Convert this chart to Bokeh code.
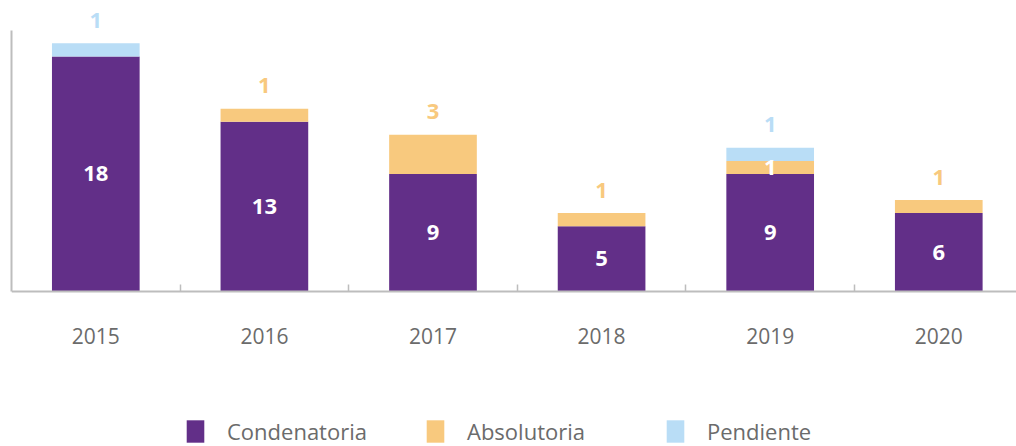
from bokeh.plotting import figure
from bokeh.models import ColumnDataSource, Range1d, FixedTicker
from bokeh.core.properties import value
from bokeh.embed import file_html
from bokeh.resources import INLINE

years = ["2015", "2016", "2017", "2018", "2019", "2020"]
condenatoria = [18, 13, 9, 5, 9, 6]
absolutoria = [0, 1, 3, 1, 1, 1]
pendiente = [1, 0, 0, 0, 1, 0]

series = ["Condenatoria", "Absolutoria", "Pendiente"]
colors = ["#622F88", "#F8C97E", "#B9DDF6"]
FONT = "Open Sans"

xs = list(range(len(years)))
src = ColumnDataSource(dict(x=xs, Condenatoria=condenatoria,
                            Absolutoria=absolutoria, Pendiente=pendiente))

p = figure(width=1016, height=446, output_backend="svg", toolbar_location=None,
           x_range=Range1d(-0.5, 5.461), y_range=Range1d(-11.87, 22.28),
           min_border_left=11, min_border_right=0, min_border_top=0,
           min_border_bottom=0)
p.outline_line_color = None
p.xgrid.visible = False
p.ygrid.visible = False

p.vbar_stack(series, x="x", width=0.52, color=colors, source=src,
             legend_label=series, line_color=None)

# value labels
lx, ly, lt, lc = [], [], [], []
vals = [condenatoria, absolutoria, pendiente]
top_off = 1.76
for i in xs:
    nonzero = [k for k in range(3) if vals[k][i] > 0]
    top = nonzero[-1]
    base = 0
    total = sum(vals[k][i] for k in range(3))
    for k in range(3):
        v = vals[k][i]
        if v > 0:
            lx.append(i)
            lt.append(str(v))
            if k == top and k != 0:
                ly.append(total + top_off)
                lc.append(colors[k])
            else:
                ly.append(base + v / 2)
                lc.append("#FFFFFF")
        base += v
lsrc = ColumnDataSource(dict(x=lx, y=ly, t=lt, c=lc))
p.text(x="x", y="y", text="t", text_color="c", source=lsrc,
       text_font=value(FONT), text_font_style="bold", text_font_size="22px",
       text_align="center", text_baseline="middle")

# axes
ax = p.xaxis[0]
ax.fixed_location = 0
ax.ticker = FixedTicker(ticks=xs, minor_ticks=[i + 0.5 for i in xs[:-1]])
ax.major_label_overrides = {i: y for i, y in zip(xs, years)}
ax.major_tick_line_color = None
ax.minor_tick_line_color = "#BDBDBD"
ax.minor_tick_line_width = 1.5
ax.minor_tick_in = 7
ax.minor_tick_out = 0
ax.axis_line_color = "#BDBDBD"
ax.axis_line_width = 2
ax.major_label_text_font = FONT
ax.major_label_text_font_size = "21px"
ax.major_label_text_color = "#6B6B6B"
ax.major_label_standoff = 31

ay = p.yaxis[0]
ay.ticker = FixedTicker(ticks=[])
ay.bounds = (0, 20)
ay.major_tick_line_color = None
ay.minor_tick_line_color = None
ay.major_tick_out = 0
ay.major_label_standoff = 0
ay.axis_line_color = "#BDBDBD"
ay.axis_line_width = 2

lg = p.legend[0]
lg.orientation = "horizontal"
lg.location = (173, 0)
lg.border_line_color = None
lg.background_fill_alpha = 0
lg.padding = 0
lg.margin = 0
lg.spacing = 0
lg.glyph_width = 22
lg.glyph_height = 28
lg.label_standoff = 21
lg.label_width = 197
lg.label_text_font = FONT
lg.label_text_font_size = "22px"
lg.label_text_color = "#6B6B6B"

open("out.html", "w").write(file_html(p, INLINE))
